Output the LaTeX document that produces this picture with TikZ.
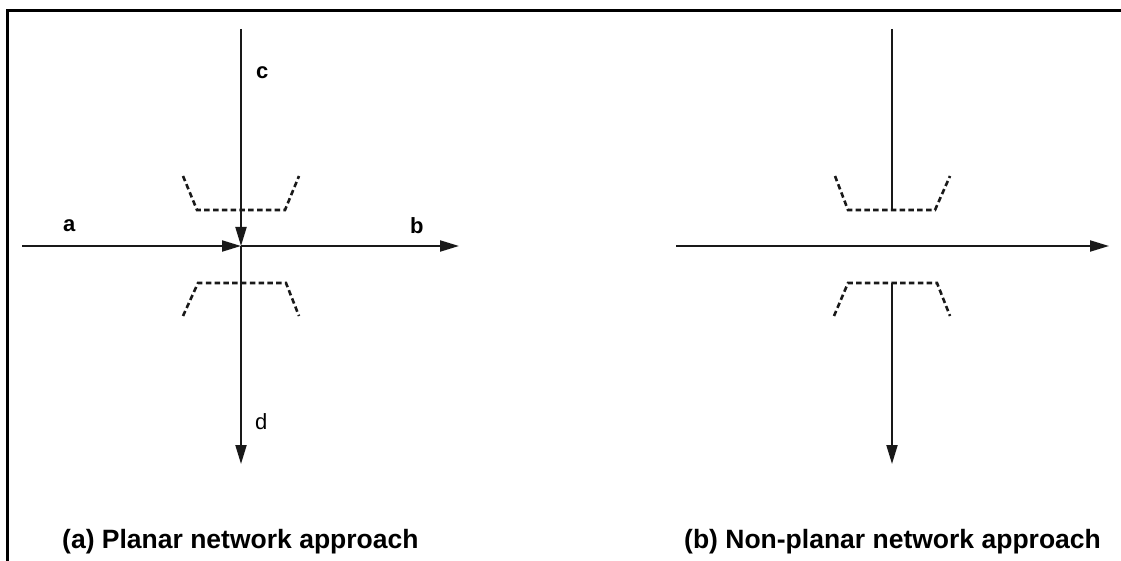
\documentclass[tikz,border=0pt]{standalone}
\usepackage{fontspec}
\setmainfont{Liberation Sans}
\usetikzlibrary{arrows.meta}
\begin{document}
\begin{tikzpicture}[x=1pt,y=-1pt,
  conn/.style={line width=2pt, draw=black!90},
  arr/.style={conn, -{Triangle[length=19pt,width=11pt]}},
  guide/.style={line width=2.6pt, dash pattern=on 5.5pt off 3.3pt, draw=black!90},
  lbl/.style={inner sep=0pt, anchor=base west, font=\fontsize{22}{24}\selectfont\bfseries},
  lbln/.style={inner sep=0pt, anchor=base west, font=\fontsize{22}{24}\selectfont},
  captext/.style={inner sep=0pt, anchor=base west, font=\fontsize{26.5}{29}\selectfont\bfseries},
  frame/.style={line width=3pt, draw=black}]
\useasboundingbox (0,0) rectangle (1121,561);
\fill[white] (0,0) rectangle (1121,561);
% frame (top and left only)
\coordinate (f1) at (1121,11);
\coordinate (f2) at (7,11);
\coordinate (f3) at (7,561);
\draw[frame] (f1) -- (f2) -- (f3);

% ---- (a) planar ----
\coordinate (X) at (241,246);
\coordinate (aS) at (22,246);
\coordinate (bE) at (459,246);
\coordinate (cS) at (241,29);
\coordinate (dE) at (241,464);
\draw[arr] (aS) -- (X);
\draw[arr] (X) -- (bE);
\draw[arr] (cS) -- (X);
\draw[arr] (X) -- (dE);
\node[lbl]  (la) at (63,232) {a};
\node[lbl]  (lb) at (410,234) {b};
\node[lbl]  (lc) at (256,79) {c};
\node[lbln] (ld) at (255,429) {d};
\coordinate (t1) at (183,176); \coordinate (t2) at (197,210);
\coordinate (t3) at (285,210); \coordinate (t4) at (299,176);
\draw[guide] (t1) -- (t2) -- (t3) -- (t4);
\coordinate (s1) at (183,316); \coordinate (s2) at (198,283);
\coordinate (s3) at (286,283); \coordinate (s4) at (299,316);
\draw[guide] (s1) -- (s2) -- (s3) -- (s4);
\node[captext] (capa) at (62,548) {(a) Planar network approach};

% ---- (b) non-planar ----
\coordinate (hS) at (676,246);
\coordinate (hE) at (1109,246);
\coordinate (uS) at (892,29);
\coordinate (uE) at (892,209);
\coordinate (wS) at (892,283);
\coordinate (wE) at (892,464);
\draw[arr] (hS) -- (hE);
\draw[conn] (uS) -- (uE);
\draw[arr] (wS) -- (wE);
\coordinate (p1) at (835,176); \coordinate (p2) at (848,210);
\coordinate (p3) at (935,210); \coordinate (p4) at (950,176);
\draw[guide] (p1) -- (p2) -- (p3) -- (p4);
\coordinate (q1) at (834,316); \coordinate (q2) at (848,283);
\coordinate (q3) at (937,283); \coordinate (q4) at (950,316);
\draw[guide] (q1) -- (q2) -- (q3) -- (q4);
\node[captext] (capb) at (684,548) {(b) Non-planar network approach};
\end{tikzpicture}
\end{document}
